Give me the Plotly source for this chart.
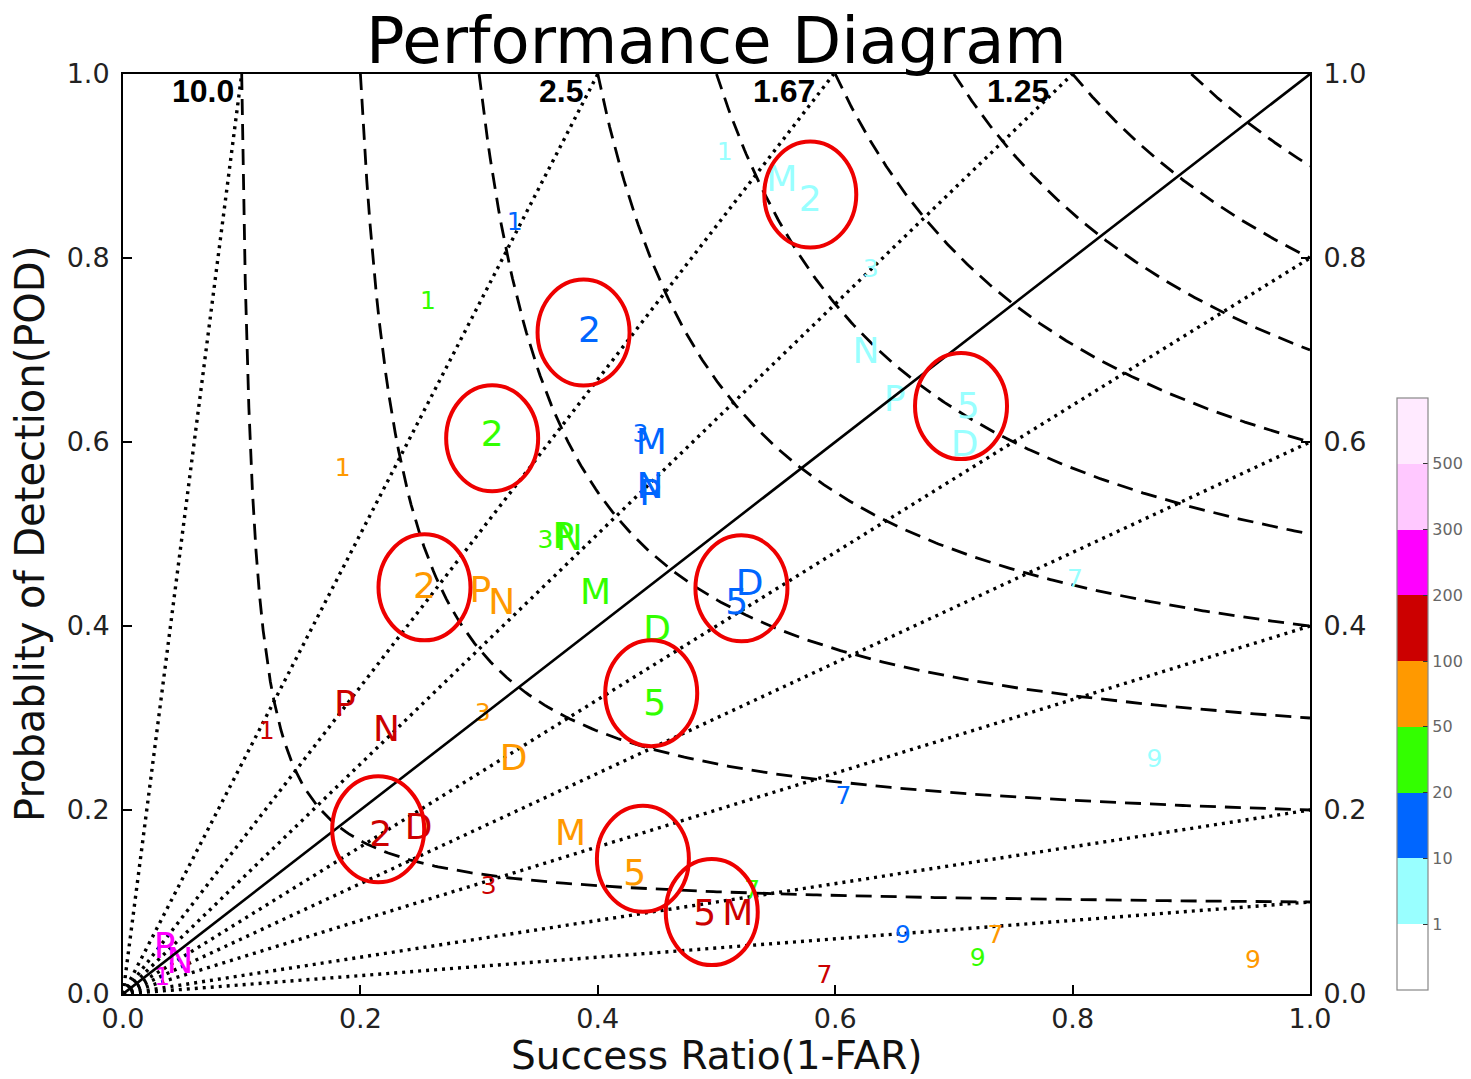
import numpy as np
import plotly.graph_objects as go

# ---------------- data ----------------
bias_values = [0.1, 0.2, 0.4, 0.6, 0.8, 1.0, 1.25, 1.67, 2.5, 10.0]
bias_label_values = [10.0, 2.5, 1.67, 1.25]
bias_label_text = ["10.0", "2.5", "1.67", "1.25"]
csi_values = [0.1, 0.2, 0.3, 0.4, 0.5, 0.6, 0.7, 0.8, 0.9]

tick_vals = [0.0, 0.2, 0.4, 0.6, 0.8, 1.0]
tick_text = ["0.0", "0.2", "0.4", "0.6", "0.8", "1.0"]

# colour classes (colorbar)
class_colors = ["#FFFFFF", "#99FFFF", "#0066FF", "#33FF00", "#FF9900",
                "#CC0000", "#FF00FF", "#FFC8FF", "#FFEAFF"]
class_bounds_text = ["1", "10", "20", "50", "100", "200", "300", "500"]

# labelled points per colour class: label, success ratio, POD
cyan_labels = ["1", "M", "2", "3", "N", "P", "5", "D", "7", "9"]
cyan_sr = [0.507, 0.555, 0.579, 0.630, 0.626, 0.650, 0.712, 0.709, 0.802, 0.869]
cyan_pod = [0.913, 0.883, 0.861, 0.786, 0.696, 0.644, 0.636, 0.595, 0.449, 0.254]

blue_labels = ["1", "2", "3", "M", "N", "P", "D", "5", "7", "9"]
blue_sr = [0.330, 0.393, 0.436, 0.445, 0.444, 0.444, 0.528, 0.517, 0.607, 0.657]
blue_pod = [0.837, 0.718, 0.607, 0.597, 0.549, 0.541, 0.444, 0.423, 0.213, 0.062]

green_labels = ["1", "2", "3", "P", "N", "M", "D", "5", "7", "9"]
green_sr = [0.257, 0.311, 0.356, 0.371, 0.376, 0.398, 0.450, 0.448, 0.530, 0.720]
green_pod = [0.751, 0.605, 0.492, 0.495, 0.492, 0.434, 0.393, 0.313, 0.111, 0.037]

orange_labels = ["1", "2", "P", "N", "3", "D", "M", "5", "7", "9"]
orange_sr = [0.185, 0.254, 0.301, 0.319, 0.303, 0.329, 0.377, 0.431, 0.735, 0.952]
orange_pod = [0.570, 0.440, 0.436, 0.423, 0.303, 0.253, 0.172, 0.128, 0.062, 0.035]

red_labels = ["1", "P", "N", "2", "D", "3", "5", "M", "7"]
red_sr = [0.121, 0.187, 0.222, 0.217, 0.249, 0.308, 0.490, 0.518, 0.591]
red_pod = [0.284, 0.312, 0.285, 0.171, 0.178, 0.116, 0.085, 0.085, 0.019]

magenta_labels = ["P", "N", "1"]
magenta_sr = [0.035, 0.048, 0.033]
magenta_pod = [0.049, 0.033, 0.017]

# highlighted (circled) points
circle_sr = [0.579, 0.388, 0.311, 0.254, 0.215, 0.706, 0.521, 0.445, 0.438, 0.496]
circle_pod = [0.869, 0.719, 0.604, 0.442, 0.179, 0.639, 0.441, 0.327, 0.147, 0.089]

# ---------------- figure ----------------
# page body adds an 8px offset; figure is sized so the plot lands where the reference has it
OFF = 8
W, H = 1471 - OFF, 1079 - OFF
ML, MT = 123 - OFF, 74 - OFF
MR = W - (1310 - OFF)
MB = H - (994 - OFF)
PW, PH = W - ML - MR, H - MT - MB

FONT = "DejaVu Sans"
fig = go.Figure()

# CSI dashed curves
for c in csi_values:
    sr = np.linspace(c, 1.0, 300)
    pod = 1.0 / (1.0 / c - 1.0 / sr + 1.0)
    fig.add_trace(go.Scatter(x=sr, y=pod, mode="lines",
                             line=dict(color="black", width=2.8, dash="16px,9px"),
                             hoverinfo="skip", showlegend=False))

# bias lines (the unbiased line is drawn on the right-hand axis so that axis gets its labels)
for b in bias_values:
    x_end = min(1.0, 1.0 / b)
    sr = np.linspace(0, x_end, 2)
    pod = b * sr
    style = "solid" if b == 1.0 else "3px,5px"
    fig.add_trace(go.Scatter(x=sr, y=pod, mode="lines",
                             yaxis="y2" if b == 1.0 else "y",
                             line=dict(color="black", width=2.6 if b == 1.0 else 3.4, dash=style),
                             hoverinfo="skip", showlegend=False))

# labelled points
groups = [
    (cyan_labels, cyan_sr, cyan_pod, class_colors[1]),
    (blue_labels, blue_sr, blue_pod, class_colors[2]),
    (green_labels, green_sr, green_pod, class_colors[3]),
    (orange_labels, orange_sr, orange_pod, class_colors[4]),
    (red_labels, red_sr, red_pod, class_colors[5]),
    (magenta_labels, magenta_sr, magenta_pod, class_colors[6]),
]
small = {"1", "3", "7", "9"}
for labels, sr, pod, col in groups:
    sizes = [25 if l in small else 36 for l in labels]
    fig.add_trace(go.Scatter(x=sr, y=pod, mode="text", text=labels,
                             textposition="middle center",
                             textfont=dict(family=FONT, size=sizes, color=col),
                             hoverinfo="skip", showlegend=False))

# colorbar (discrete classes)
n = len(class_colors)
cscale = []
for i, c in enumerate(class_colors):
    cscale.append([i / n, c])
    cscale.append([(i + 1) / n, c])
cb_top, cb_bot = 398 - OFF, 990 - OFF
fig.add_trace(go.Scatter(
    x=[None], y=[None], mode="markers", showlegend=False, hoverinfo="skip",
    marker=dict(color=[0], cmin=0, cmax=n, colorscale=cscale, showscale=True,
                colorbar=dict(
                    x=(1397 - OFF - ML) / PW, xanchor="left", xpad=0, ypad=0,
                    y=((H - MB) - (cb_top + cb_bot) / 2) / PH,
                    yanchor="middle", lenmode="pixels", len=cb_bot - cb_top,
                    thickness=31, outlinecolor="#888888", outlinewidth=1.2,
                    tickvals=list(range(1, n)), ticktext=class_bounds_text,
                    ticks="inside", ticklen=5, tickcolor="#333333",
                    tickfont=dict(family=FONT, size=16, color="#666666")))))

# ellipses around circled points
rx, ry = 46.0 / PW, 53.0 / PH
for cx, cy in zip(circle_sr, circle_pod):
    fig.add_shape(type="circle", xref="x", yref="y",
                  x0=cx - rx, x1=cx + rx, y0=cy - ry, y1=cy + ry,
                  line=dict(color="#EE0000", width=4), layer="above")

# bias labels at top
label_pod = 0.9815
for b, t in zip(bias_label_values, bias_label_text):
    fig.add_annotation(x=label_pod / b, y=label_pod, xref="x", yref="y",
                       text="<b>" + t + "</b>", showarrow=False,
                       xanchor="right", yanchor="middle", xshift=-4,
                       font=dict(family="Liberation Sans", size=32, color="black"))

# titles
fig.add_annotation(x=0.5, y=1, xref="paper", yref="paper", text="Performance Diagram",
                   showarrow=False, yanchor="middle", yshift=33,
                   font=dict(family=FONT, size=64, color="black"))
fig.add_annotation(x=0.5, y=0, xref="paper", yref="paper", text="Success Ratio(1-FAR)",
                   showarrow=False, yanchor="middle", yshift=-61,
                   font=dict(family=FONT, size=39, color="#111111"))
fig.add_annotation(x=0, y=0.5, xref="paper", yref="paper", text="Probablity of Detection(POD)",
                   showarrow=False, textangle=-90, xanchor="center", xshift=-93,
                   font=dict(family=FONT, size=40, color="#111111"))

axis_common = dict(range=[0, 1], showgrid=False, zeroline=False, showline=True,
                   linecolor="black", linewidth=2, ticks="inside", ticklen=9,
                   tickwidth=1.5, tickcolor="black", tickvals=tick_vals,
                   ticktext=tick_text, automargin=False,
                   tickfont=dict(family=FONT, size=27, color="#222222"))

fig.update_layout(
    width=W, height=H,
    margin=dict(l=ML, r=MR, t=MT, b=MB, autoexpand=False),
    plot_bgcolor="white", paper_bgcolor="white",
    xaxis=dict(**axis_common, mirror=True, ticklabelstandoff=0),
    yaxis=dict(**axis_common, mirror=True, ticklabelstandoff=6),
    yaxis2=dict(**axis_common, overlaying="y", side="right", anchor="x",
                ticklabelstandoff=6),
    showlegend=False,
)

fig.write_html("out.html")
